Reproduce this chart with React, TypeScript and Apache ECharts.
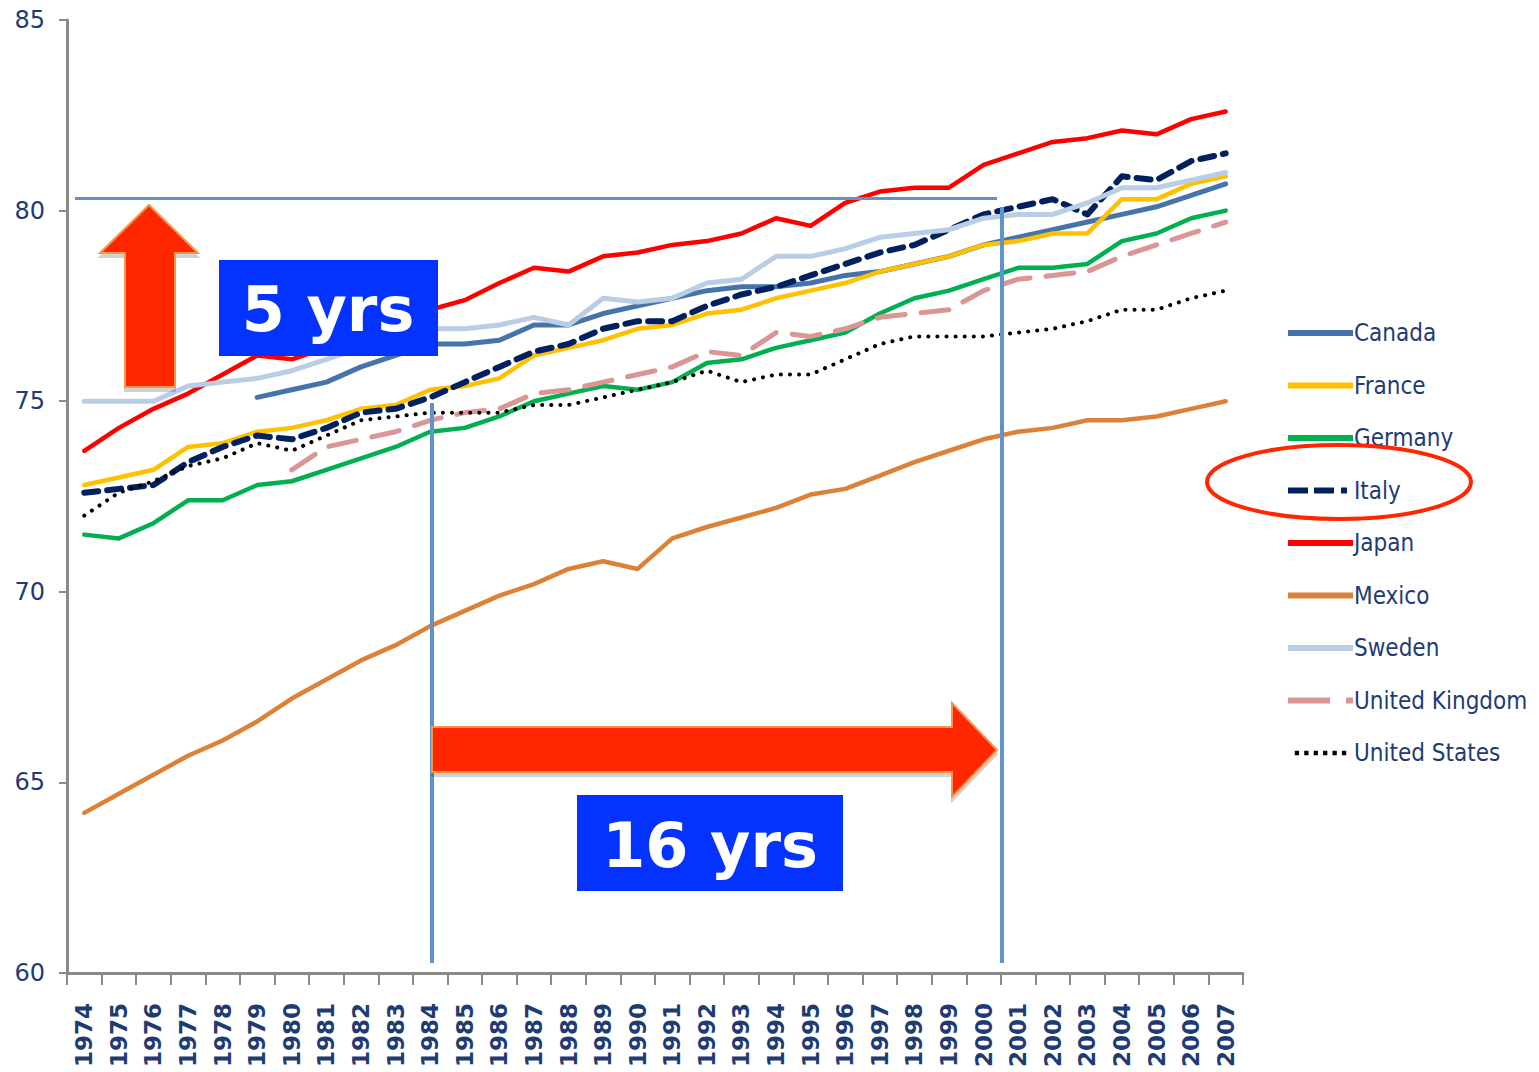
import React, { useEffect, useRef } from "react";
import * as echarts from "echarts";

const years = ["1974","1975","1976","1977","1978","1979","1980","1981","1982","1983","1984","1985","1986","1987","1988","1989","1990","1991","1992","1993","1994","1995","1996","1997","1998","1999","2000","2001","2002","2003","2004","2005","2006","2007"];

const canada = [null,null,null,null,null,75.1,75.3,75.5,75.9,76.2,76.5,76.5,76.6,77.0,77.0,77.3,77.5,77.7,77.9,78.0,78.0,78.1,78.3,78.4,78.6,78.8,79.1,79.3,79.5,79.7,79.9,80.1,80.4,80.7];
const france = [72.8,73.0,73.2,73.8,73.9,74.2,74.3,74.5,74.8,74.9,75.3,75.4,75.6,76.2,76.4,76.6,76.9,77.0,77.3,77.4,77.7,77.9,78.1,78.4,78.6,78.8,79.1,79.2,79.4,79.4,80.3,80.3,80.7,80.9];
const germany = [71.5,71.4,71.8,72.4,72.4,72.8,72.9,73.2,73.5,73.8,74.2,74.3,74.6,75.0,75.2,75.4,75.3,75.5,76.0,76.1,76.4,76.6,76.8,77.3,77.7,77.9,78.2,78.5,78.5,78.6,79.2,79.4,79.8,80.0];
const italy = [72.6,72.7,72.8,73.4,73.8,74.1,74.0,74.3,74.7,74.8,75.1,75.5,75.9,76.3,76.5,76.9,77.1,77.1,77.5,77.8,78.0,78.3,78.6,78.9,79.1,79.5,79.9,80.1,80.3,79.9,80.9,80.8,81.3,81.5];
const japan = [73.7,74.3,74.8,75.2,75.7,76.2,76.1,76.4,76.9,77.0,77.4,77.65,78.1,78.5,78.4,78.8,78.9,79.1,79.2,79.4,79.8,79.6,80.2,80.5,80.6,80.6,81.2,81.5,81.8,81.9,82.1,82.0,82.4,82.6];
const mexico = [64.2,64.7,65.2,65.7,66.1,66.6,67.2,67.7,68.2,68.6,69.1,69.5,69.9,70.2,70.6,70.8,70.6,71.4,71.7,71.95,72.2,72.55,72.7,73.05,73.4,73.7,74.0,74.2,74.3,74.5,74.5,74.6,74.8,75.0];
const sweden = [75.0,75.0,75.0,75.4,75.5,75.6,75.8,76.1,76.4,76.7,76.9,76.9,77.0,77.2,77.0,77.7,77.6,77.7,78.1,78.2,78.8,78.8,79.0,79.3,79.4,79.5,79.8,79.9,79.9,80.2,80.6,80.6,80.8,81.0];
const uk = [null,null,null,null,null,null,73.2,73.8,74.0,74.2,74.5,74.7,74.8,75.2,75.3,75.5,75.7,75.9,76.3,76.2,76.8,76.7,76.9,77.2,77.3,77.4,77.9,78.2,78.3,78.4,78.8,79.1,79.4,79.7];
const us = [72.0,72.6,72.9,73.3,73.5,73.9,73.7,74.1,74.5,74.6,74.7,74.7,74.7,74.9,74.9,75.1,75.3,75.5,75.8,75.5,75.7,75.7,76.1,76.5,76.7,76.7,76.7,76.8,76.9,77.1,77.4,77.4,77.7,77.9];

const yTicks = { min: 60, max: 85, interval: 5 };

const NAVY = "#1F3B73";
const ANN = "#5F93C9";

const ICON_SOLID = "path://M0,0 H65 V6 H0 Z";
const ICON_ITALY = "path://M0,0 H20 V6 H0 Z M26,0 H46 V6 H26 Z M53,0 H59 V6 H53 Z M0,0 M65,6";
const ICON_UK = "path://M0,0 H42 V6 H0 Z M58,0 H65 V6 H58 Z";
const ICON_US = "path://M0,1 H5 V6 H0 Z M11,1 H16 V6 H11 Z M22,1 H27 V6 H22 Z M33,1 H38 V6 H33 Z M44,1 H49 V6 H44 Z M55,1 H60 V6 H55 Z M0,0 M60,7";

export default function App() {
  const ref = useRef<HTMLDivElement>(null);
  useEffect(() => {
    if (!ref.current) return;
    const chart = echarts.init(ref.current, null, { renderer: "svg" });
    const mk = (name: string, data: any[], color: string, width: number, type: any = "solid") => ({
      name,
      type: "line",
      data: data.map((v) => (v == null ? "-" : v)),
      symbol: "none",
      connectNulls: false,
      lineStyle: { color, width, type, cap: "round", join: "round" },
      itemStyle: { color },
      z: 2,
    });
    const shadow = { shadowColor: "rgba(0,0,0,0.18)", shadowBlur: 0, shadowOffsetX: 0, shadowOffsetY: 4 };
    chart.setOption({
      animation: false,
      backgroundColor: "#ffffff",
      grid: { left: 67, right: 296, top: 20, bottom: 99, containLabel: false },
      xAxis: {
        type: "category",
        data: years,
        boundaryGap: true,
        axisLine: { show: true, lineStyle: { color: "#8a8a8a", width: 3 } },
        axisTick: { show: true, length: 12, lineStyle: { color: "#8a8a8a", width: 2 }, interval: 0 },
        axisLabel: {
          interval: 0,
          rotate: 90,
          margin: 30,
          color: NAVY,
          fontFamily: "DejaVu Sans",
          fontWeight: "bold",
          fontSize: 23,
        },
        splitLine: { show: false },
      },
      yAxis: {
        type: "value",
        min: yTicks.min,
        max: yTicks.max,
        interval: yTicks.interval,
        axisLine: { show: true, lineStyle: { color: "#8a8a8a", width: 3 } },
        axisTick: { show: true, length: 8, lineStyle: { color: "#8a8a8a", width: 2 } },
        axisLabel: { margin: 22, color: NAVY, fontFamily: "DejaVu Sans", fontSize: 24 },
        splitLine: { show: false },
      },
      legend: {
        orient: "vertical",
        left: 1283,
        top: 313,
        itemWidth: 65,
        itemHeight: 6,
        itemGap: 22.5,
        selectedMode: false,
        textStyle: {
          color: NAVY,
          fontFamily: "DejaVu Sans Condensed",
          fontSize: 24,
          lineHeight: 30,
          padding: [0, 0, 0, -4],
        },
        data: [
          { name: "Canada", icon: ICON_SOLID },
          { name: "France", icon: ICON_SOLID },
          { name: "Germany", icon: ICON_SOLID },
          { name: "Italy", icon: ICON_ITALY },
          { name: "Japan", icon: ICON_SOLID },
          { name: "Mexico", icon: ICON_SOLID },
          { name: "Sweden", icon: ICON_SOLID },
          { name: "United Kingdom", icon: ICON_UK },
          { name: "United States", icon: ICON_US },
        ],
      },
      series: [
        mk("Canada", canada, "#4674AA", 5),
        mk("France", france, "#FFC000", 4.5),
        mk("Germany", germany, "#00B050", 4.5),
        mk("Italy", italy, "#002060", 6, [14, 9]),
        mk("Japan", japan, "#FF0000", 4.5),
        mk("Mexico", mexico, "#DC8238", 4.5),
        mk("Sweden", sweden, "#B9CDE5", 5),
        mk("United Kingdom", uk, "#D99694", 5, [28, 16]),
        mk("United States", us, "#000000", 4, [0.1, 9]),
      ],
      graphic: [
        { type: "line", z: 50, shape: { x1: 75, y1: 198, x2: 997, y2: 199 }, style: { stroke: ANN, lineWidth: 5, ...shadow } },
        { type: "line", z: 50, shape: { x1: 75, y1: 390, x2: 418, y2: 390 }, style: { stroke: ANN, lineWidth: 5, ...shadow } },
        { type: "line", z: 50, shape: { x1: 432, y1: 403, x2: 432, y2: 963 }, style: { stroke: ANN, lineWidth: 4 } },
        { type: "line", z: 50, shape: { x1: 1002, y1: 207, x2: 1002, y2: 963 }, style: { stroke: ANN, lineWidth: 4 } },
        {
          type: "polygon", z: 51,
          shape: { points: [[100,253],[149,205],[198,253],[175,253],[175,387],[125,387],[125,253]] },
          style: { fill: "#FF2600", stroke: "#F79646", lineWidth: 2, ...shadow },
        },
        {
          type: "polygon", z: 51,
          shape: { points: [[432,727],[952,727],[952,703],[997,750],[952,797],[952,772],[432,772]] },
          style: { fill: "#FF2600", stroke: "#F79646", lineWidth: 2, ...shadow },
        },
        { type: "rect", z: 52, shape: { x: 219, y: 260, width: 219, height: 96 }, style: { fill: "#0433FF" } },
        {
          type: "text", z: 53, x: 328, y: 309,
          style: { text: "5 yrs", fill: "#ffffff", font: "bold 62px DejaVu Sans", align: "center", verticalAlign: "middle" },
        },
        { type: "rect", z: 52, shape: { x: 577, y: 795, width: 266, height: 96 }, style: { fill: "#0433FF" } },
        {
          type: "text", z: 53, x: 710, y: 845,
          style: { text: "16 yrs", fill: "#ffffff", font: "bold 62px DejaVu Sans", align: "center", verticalAlign: "middle" },
        },
        {
          type: "ellipse", z: 60,
          shape: { cx: 1339, cy: 482, rx: 132, ry: 37 },
          style: { fill: "none", stroke: "#FF2600", lineWidth: 4 },
        },
      ],
    });
    return () => chart.dispose();
  }, []);
  return <div ref={ref} style={{ width: 1539, height: 1072, position: "absolute", left: 0, top: 0 }} />;
}
